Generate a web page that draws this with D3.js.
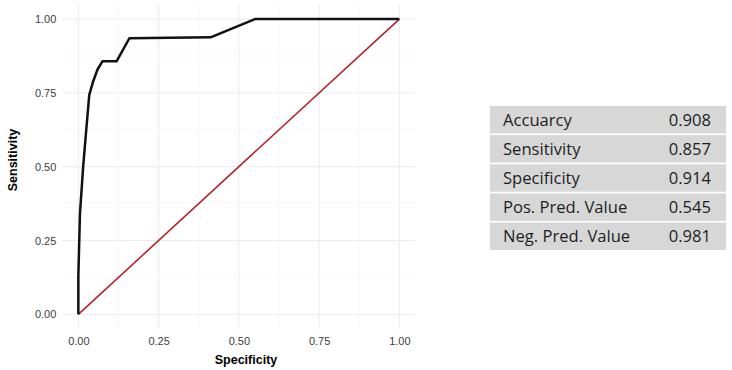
<!DOCTYPE html>
<html><head><meta charset="utf-8">
<script src="https://cdn.jsdelivr.net/npm/d3@7"></script>
<style>body{margin:0;background:#fff}svg{display:block}</style>
</head><body>
<svg id="c" width="732" height="370"></svg>
<script>
const rocSpec = [0,0,0.005,0.015,0.025,0.034,0.045,0.06,0.075,0.119,0.159,0.412,0.55,1];
const rocSens = [0,0.13,0.34,0.5,0.63,0.743,0.785,0.83,0.857,0.857,0.935,0.938,1,1];
const refLine = [0,1];
const ticks = [0,0.25,0.5,0.75,1];
const metricNames = ["Accuarcy","Sensitivity","Specificity","Pos. Pred. Value","Neg. Pred. Value"];
const metricValues = ["0.908","0.857","0.914","0.545","0.981"];

const svg = d3.select("#c");
const x = d3.scaleLinear().domain([-0.05,1.05]).range([62.3,415.4]);
const y = d3.scaleLinear().domain([-0.05,1.05]).range([329.1,4.3]);
const g = svg.append("g");
const minor = [0.125,0.375,0.625,0.875];
// grid
g.selectAll(".vmin").data(minor).join("line").attr("x1",d=>x(d)).attr("x2",d=>x(d)).attr("y1",y.range()[0]).attr("y2",y.range()[1]).attr("stroke","#f2f2f2").attr("stroke-width",0.6);
g.selectAll(".hmin").data(minor).join("line").attr("y1",d=>y(d)).attr("y2",d=>y(d)).attr("x1",x.range()[0]).attr("x2",x.range()[1]).attr("stroke","#f2f2f2").attr("stroke-width",0.6);
g.selectAll(".vmaj").data(ticks).join("line").attr("x1",d=>x(d)).attr("x2",d=>x(d)).attr("y1",y.range()[0]).attr("y2",y.range()[1]).attr("stroke","#ebebeb").attr("stroke-width",1);
g.selectAll(".hmaj").data(ticks).join("line").attr("y1",d=>y(d)).attr("y2",d=>y(d)).attr("x1",x.range()[0]).attr("x2",x.range()[1]).attr("stroke","#ebebeb").attr("stroke-width",1);

// axes
const xa = svg.append("g").attr("transform",`translate(0,${y.range()[0]})`)
  .call(d3.axisBottom(x).tickValues(ticks).tickFormat(d3.format(".2f")).tickSize(0).tickPadding(8));
const ya = svg.append("g").attr("transform",`translate(${x.range()[0]},0)`)
  .call(d3.axisLeft(y).tickValues(ticks).tickFormat(d3.format(".2f")).tickSize(0).tickPadding(6));
[xa,ya].forEach(a=>{a.select(".domain").remove();a.selectAll("text").attr("font-family","Liberation Sans, Arial, sans-serif").attr("font-size",11).attr("fill","#3d3d3d");});

// lines
svg.append("path").datum(refLine).attr("d",d3.line().x(d=>x(d)).y(d=>y(d)))
  .attr("stroke","#b5232a").attr("stroke-width",1.6).attr("fill","none");
svg.append("path").datum(rocSpec.map((s,i)=>[s,rocSens[i]])).attr("d",d3.line().x(d=>x(d[0])).y(d=>y(d[1])))
  .attr("stroke","#111").attr("stroke-width",2.5).attr("fill","none").attr("stroke-linejoin","round");

// titles
svg.append("text").attr("x",246).attr("y",364).attr("text-anchor","middle").attr("font-family","Liberation Sans, Arial, sans-serif").attr("font-weight","bold").attr("font-size",12.5).attr("fill","#000").text("Specificity");
svg.append("text").attr("transform","translate(17,160) rotate(-90)").attr("text-anchor","middle").attr("font-family","Liberation Sans, Arial, sans-serif").attr("font-weight","bold").attr("font-size",12.5).attr("fill","#000").text("Sensitivity");

// table
const rowY = d3.scaleBand().domain(metricNames).range([106,250]).paddingInner(0.06);
const tb = svg.append("g");
tb.selectAll("rect").data(metricNames).join("rect").attr("x",490).attr("width",236).attr("y",d=>rowY(d)).attr("height",rowY.bandwidth()).attr("fill","#d7d7d7");
tb.selectAll(".n").data(metricNames).join("text").attr("x",503).attr("y",d=>rowY(d)+rowY.bandwidth()/2+6).attr("font-family","Open Sans, sans-serif").attr("font-size",16.6).attr("fill","#1e1e1e").text(d=>d);
tb.selectAll(".v").data(metricValues).join("text").attr("x",711).attr("text-anchor","end").attr("y",(d,i)=>rowY(metricNames[i])+rowY.bandwidth()/2+6).attr("font-family","Open Sans, sans-serif").attr("font-size",16.6).attr("fill","#1e1e1e").text(d=>d);
</script>
</body></html>
